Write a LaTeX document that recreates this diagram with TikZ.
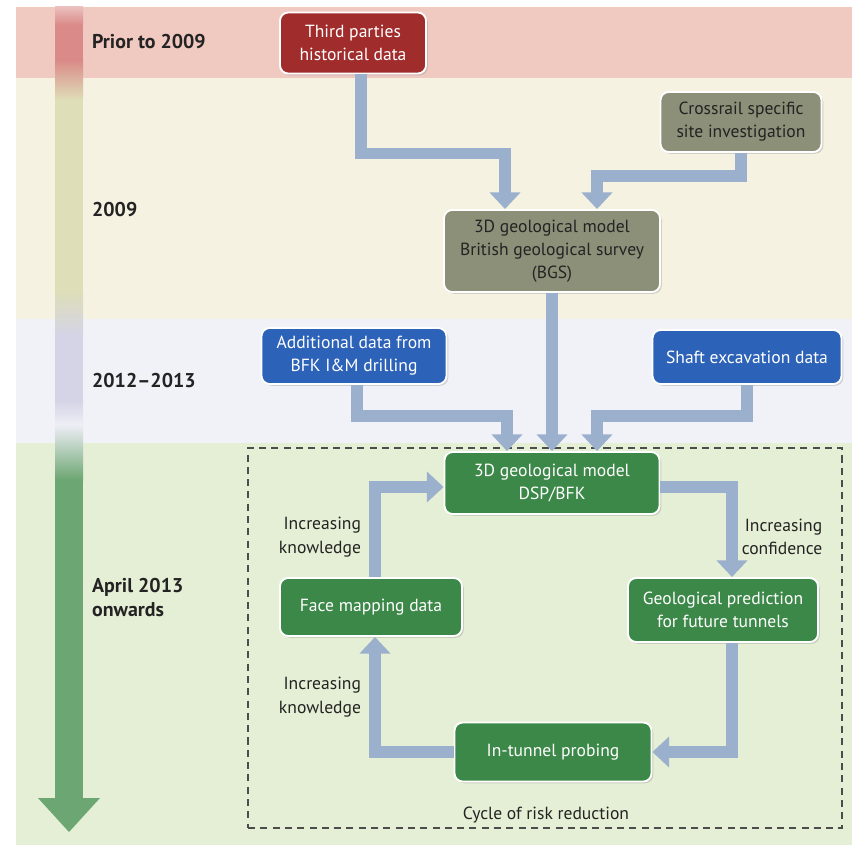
\documentclass[tikz,border=0pt]{standalone}
\usepackage{fontspec}
\setmainfont{PT Sans}
\usetikzlibrary{positioning,arrows.meta,calc,shadows}

\definecolor{bandred}{RGB}{240,201,193}
\definecolor{bandyellow}{RGB}{245,242,226}
\definecolor{bandblue}{RGB}{240,242,248}
\definecolor{bandgreen}{RGB}{229,239,213}
\definecolor{nodered}{RGB}{160,44,44}
\definecolor{nodeolive}{RGB}{140,144,120}
\definecolor{nodeblue}{RGB}{44,98,184}
\definecolor{nodegreen}{RGB}{60,136,72}
\definecolor{flowblue}{RGB}{154,176,205}
\definecolor{labelgrey}{RGB}{35,35,35}
\definecolor{tlred}{RGB}{218,138,136}
\definecolor{tlyellow}{RGB}{222,222,184}
\definecolor{tllav}{RGB}{212,212,230}
\definecolor{tlgreen}{RGB}{108,166,114}

\begin{document}
\begin{tikzpicture}[x=0.03cm, y=-0.03cm,
box/.style={rectangle, rounded corners=7pt, draw=white, line width=1.6pt, align=center, inner sep=2pt,
  font=\fontsize{15}{19.5}\selectfont, drop shadow={opacity=0.3, shadow xshift=1.5pt, shadow yshift=-1.5pt}},
box_red/.style={box, fill=nodered, text=white},
box_olive/.style={box, fill=nodeolive, text=labelgrey},
box_blue/.style={box, fill=nodeblue, text=white},
box_green/.style={box, fill=nodegreen, text=white},
year_label/.style={anchor=west, align=left, text=labelgrey, font=\fontsize{17}{20.5}\selectfont\bfseries},
note_label/.style={align=right, text=labelgrey, font=\fontsize{15}{20}\selectfont},
cycle_frame/.style={rectangle, draw=black!70, line width=1.2pt, dash pattern=on 6pt off 4.5pt, inner sep=0pt},
flow_arrow/.style={draw=flowblue, line width=9.5pt, -{Triangle[width=0.9cm, length=0.5cm]}},
]
\useasboundingbox (0,0) rectangle (852,845);

% period bands
\fill[bandred] (16,7) rectangle (852,78);
\fill[bandyellow] (16,78) rectangle (852,319);
\fill[bandblue] (16,319) rectangle (852,443);
\fill[bandgreen] (16,443) rectangle (852,845);

% time line on the left
\shade[top color=tlred!55, bottom color=tlred] (55,7) rectangle (83,25);
\fill[tlred] (55,25) rectangle (83,60);
\shade[top color=tlred, bottom color=tlyellow] (55,60) rectangle (83,100);
\fill[tlyellow] (55,100) rectangle (83,290);
\shade[top color=tlyellow, bottom color=tllav] (55,290) rectangle (83,335);
\fill[tllav] (55,335) rectangle (83,400);
\shade[top color=tllav, bottom color=tllav!40] (55,400) rectangle (83,425);
\shade[top color=tllav!40, bottom color=tlgreen] (55,425) rectangle (83,480);
\fill[tlgreen] (55,480) rectangle (83,799);
\fill[tlgreen] (38,798) -- (100,798) -- (69,832) -- cycle;

% \node[year_label](name)at(x,y){period}
\node[year_label](prior_label) at (88,42) {Prior to 2009};
\node[year_label](y2009_label) at (88,210) {2009};
\node[year_label](y2012_label) at (88,381) {2012–2013};
\node[year_label](april_label) at (88,598) {April 2013\\onwards};

% cycle of risk reduction
\node[cycle_frame, minimum width=17.82cm, minimum height=11.4cm](cycle_box) at (545,638) {};
\node[note_label](cycle_label) at (546,815) {Cycle of risk reduction};

% data and model boxes
\node[box_red, minimum width=4.38cm, minimum height=1.83cm](third_parties) at (353,43) {Third parties\\historical data};
\node[box_olive, minimum width=4.83cm, minimum height=1.8cm](crossrail_si) at (741,122) {Crossrail specific\\site investigation};
\node[box_olive, minimum width=6.48cm, minimum height=2.46cm](bgs_model) at (552,251) {3D geological model\\British geological survey\\(BGS)};
\node[box_blue, minimum width=5.55cm, minimum height=1.68cm](additional_data) at (354,356) {Additional data from\\BFK I\&M drilling};
\node[box_blue, minimum width=5.67cm, minimum height=1.62cm](shaft_data) at (747,357) {Shaft excavation data};
\node[box_green, minimum width=6.45cm, minimum height=1.86cm](dsp_model) at (552,483) {3D geological model\\DSP/BFK};
\node[box_green, minimum width=5.46cm, minimum height=1.74cm](face_mapping) at (371,607) {Face mapping data};
\node[box_green, minimum width=5.7cm, minimum height=1.92cm](geo_prediction) at (723,610) {Geological prediction\\for future tunnels};
\node[box_green, minimum width=5.91cm, minimum height=1.77cm](tunnel_probing) at (553,752) {In-tunnel probing};

\node[note_label](knowledge_upper) at (320,537) {Increasing\\knowledge};
\node[note_label](confidence_label) at (782,537) {Increasing\\confidence};
\node[note_label](knowledge_lower) at (320,697) {Increasing\\knowledge};

% \draw[flow_arrow] (from) -- (to)
\draw[flow_arrow] ($(third_parties.south)+(8,0)$) -- ++(0,79) -| ($(bgs_model.north)+(-47,0)$);
\draw[flow_arrow] (crossrail_si.south) -- ++(0,23) -| ($(bgs_model.north)+(45,0)$);
\draw[flow_arrow] (bgs_model.south) -- (dsp_model.north);
\draw[flow_arrow] ($(additional_data.south)+(3,0)$) -- ++(0,31) -| ($(dsp_model.north)+(-45,0)$);
\draw[flow_arrow] (shaft_data.south) -- ++(0,31) -| ($(dsp_model.north)+(45,0)$);

\draw[flow_arrow] ($(dsp_model.east)+(0,4)$) -| ($(geo_prediction.north)+(9,0)$);
\draw[flow_arrow] ($(geo_prediction.south)+(9,0)$) |- (tunnel_probing.east);
\draw[flow_arrow] (tunnel_probing.west) -| ($(face_mapping.south)+(4,0)$);
\draw[flow_arrow] ($(face_mapping.north)+(4,0)$) |- ($(dsp_model.west)+(0,4)$);

\end{tikzpicture}
\end{document}
